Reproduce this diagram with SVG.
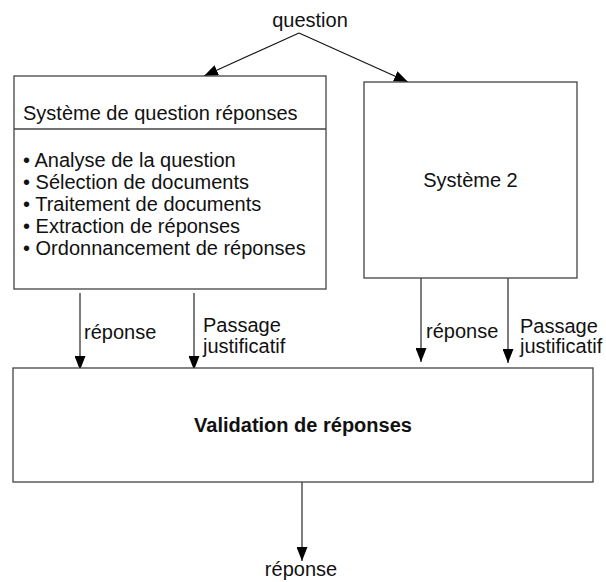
<svg xmlns="http://www.w3.org/2000/svg" width="606" height="582" viewBox="0 0 606 582">
<defs>
<style>
text{font-family:"Liberation Sans",Arial,sans-serif;font-size:20px;fill:#111}
.box{fill:#fff;stroke:#444;stroke-width:1.3}
.edge{stroke:#111;stroke-width:1.1;fill:none;marker-end:url(#ah)}
.b{font-weight:bold}
</style>
<marker id="ah" markerUnits="userSpaceOnUse" markerWidth="14" markerHeight="11" refX="14" refY="5.5" orient="auto">
<path d="M0,0 L14,5.5 L0,11 z" fill="#000"/>
</marker>
</defs>
<rect width="606" height="582" fill="#fff"/>
<g id="connectors">
<path class="edge" d="M299,33 L204,76"/>
<path class="edge" d="M299,33 L408,82"/>
<path class="edge" d="M80,293 L80,370"/>
<path class="edge" d="M194,293 L194,370"/>
<path class="edge" d="M421,278 L421,362"/>
<path class="edge" d="M508,278 L508,363"/>
<path class="edge" d="M302,482 L302,561"/>
</g>
<g id="question">
<text x="310" y="27" text-anchor="middle">question</text>
</g>
<g id="systeme1">
<rect class="box" x="14" y="76" width="312" height="213"/>
<line x1="14" y1="129" x2="326" y2="129" stroke="#444" stroke-width="1.3"/>
<text x="23" y="120">Système de question réponses</text>
<text x="23" y="167">• Analyse de la question</text>
<text x="23" y="189">• Sélection de documents</text>
<text x="23" y="211">• Traitement de documents</text>
<text x="23" y="233">• Extraction de réponses</text>
<text x="23" y="255">• Ordonnancement de réponses</text>
</g>
<g id="systeme2">
<rect class="box" x="364" y="82" width="213" height="196"/>
<text x="470.5" y="187" text-anchor="middle">Système 2</text>
</g>
<g id="validation">
<rect class="box" x="13" y="368" width="580" height="114"/>
<text class="b" x="303" y="432" text-anchor="middle">Validation de réponses</text>
</g>
<g id="labels">
<text x="84" y="339">réponse</text>
<text x="203" y="332">Passage</text>
<text x="203" y="353">justificatif</text>
<text x="426" y="338">réponse</text>
<text x="520" y="333">Passage</text>
<text x="520" y="353">justificatif</text>
<text x="301" y="576" text-anchor="middle">réponse</text>
</g>
</svg>
